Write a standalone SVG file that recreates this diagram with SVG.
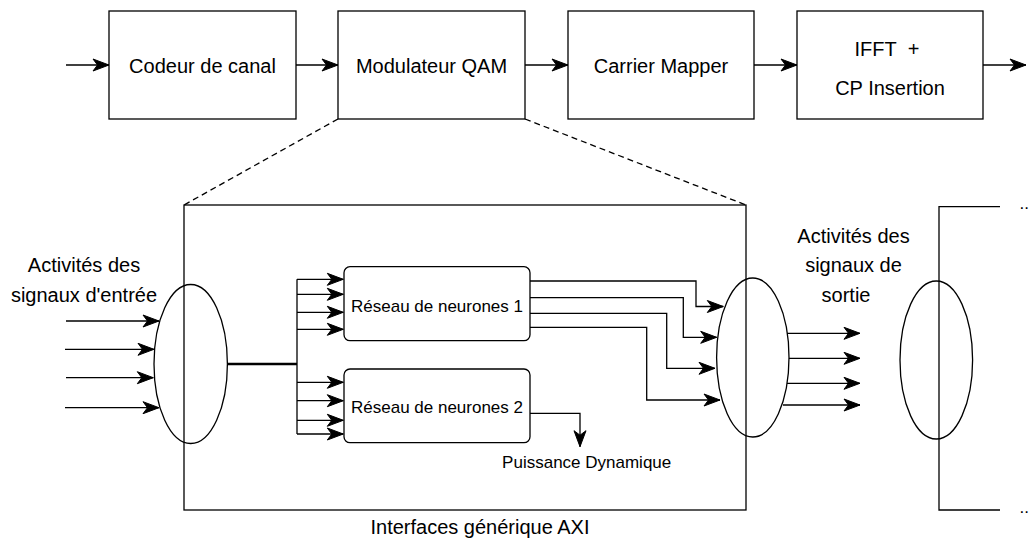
<svg xmlns="http://www.w3.org/2000/svg" width="1032" height="547" viewBox="0 0 1032 547">
<style>
.box{fill:#fff;stroke:#000;stroke-width:1.3}
.ln{fill:none;stroke:#000;stroke-width:1.3}
.thick{fill:none;stroke:#000;stroke-width:2.4}
.dash{fill:none;stroke:#000;stroke-width:1.3;stroke-dasharray:6 4}
.arr{fill:none;stroke:#000;stroke-width:1.3;marker-end:url(#ah)}
text{font-family:"Liberation Sans",Arial,sans-serif;fill:#000}
.t20{font-size:20px;text-anchor:middle}
.t17{font-size:17px;text-anchor:middle}
</style>
<defs>
<marker id="ah" markerUnits="userSpaceOnUse" markerWidth="18" markerHeight="14" refX="16" refY="6" orient="auto" overflow="visible">
<path d="M0,0 L16,6 L0,12 L4.5,6 Z" fill="#000" stroke="#000" stroke-width="1"/>
</marker>
</defs>
<rect width="1032" height="547" fill="#fff"/>

<g id="big-box">
<rect x="184" y="205" width="562" height="305" style="fill:none;stroke:#000;stroke-width:1.3"/>
<text class="t20" x="480" y="534">Interfaces générique AXI</text>
</g>

<g id="codeur">
<rect class="box" x="109" y="11" width="187" height="108"/>
<text class="t20" x="202.5" y="72.5">Codeur de canal</text>
</g>
<g id="modulateur">
<rect class="box" x="338" y="11" width="187" height="108"/>
<text class="t20" x="431.5" y="72.5">Modulateur QAM</text>
</g>
<g id="carrier">
<rect class="box" x="568" y="11" width="186" height="108"/>
<text class="t20" x="661" y="72.5">Carrier Mapper</text>
</g>
<g id="ifft">
<rect class="box" x="797" y="11" width="186" height="108"/>
<text class="t20" x="887" y="56">IFFT&#160; +</text>
<text class="t20" x="890" y="95">CP Insertion</text>
</g>

<g id="in-label">
<text class="t20" x="84" y="272">Activités des</text>
<text class="t20" x="84" y="301.7">signaux d'entrée</text>
</g>
<g id="out-label">
<text class="t20" x="853.5" y="243.3">Activités des</text>
<text class="t20" x="853.5" y="271.7">signaux de</text>
<text class="t20" x="846" y="301.7">sortie</text>
</g>

<g id="in-ellipse">
<ellipse class="ln" cx="190.7" cy="364" rx="36.7" ry="79.5"/>
</g>
<g id="out-ellipse">
<ellipse class="ln" cx="752.8" cy="357.5" rx="36.2" ry="79.5"/>
</g>
<g id="right-bracket">
<path class="ln" d="M1000,206.7 H939 V510 H1000"/>
<ellipse class="ln" cx="936.3" cy="360" rx="36.3" ry="79"/>
<text x="1019.5" y="209" style="font-size:17px">..</text>
<text x="1019.5" y="513" style="font-size:17px">..</text>
</g>

<g id="nn1">
<rect class="box" x="344" y="266.7" width="186" height="74" rx="6"/>
<text class="t17" x="437" y="311.7">Réseau de neurones 1</text>
</g>
<g id="nn2">
<rect class="box" x="344" y="369" width="186" height="73.7" rx="6"/>
<text class="t17" x="437" y="413.3">Réseau de neurones 2</text>
</g>
<g id="puissance">
<text class="t17" x="586.7" y="468.3">Puissance Dynamique</text>
</g>

<g id="connectors">
<path class="arr" d="M66,65 H109"/>
<path class="arr" d="M296,65 H338"/>
<path class="arr" d="M525,65 H568"/>
<path class="arr" d="M754,65 H797"/>
<path class="arr" d="M983,65 H1026"/>
<path class="dash" d="M338,119 L184,205"/>
<path class="dash" d="M525,119 L746,205"/>

<path class="arr" d="M66,321 H159"/>
<path class="arr" d="M65,349.3 H154"/>
<path class="arr" d="M66,377.7 H153.3"/>
<path class="arr" d="M65,407.7 H159"/>

<path class="thick" d="M227.4,364 H297"/>
<path class="ln" d="M297,279.3 V434"/>
<path class="arr" d="M297,279.3 H343.3"/>
<path class="arr" d="M297,294.3 H343.3"/>
<path class="arr" d="M297,312.3 H343.3"/>
<path class="arr" d="M297,329.3 H343.3"/>
<path class="arr" d="M297,382.3 H343.3"/>
<path class="arr" d="M297,400.7 H343.3"/>
<path class="arr" d="M297,420.3 H343.3"/>
<path class="arr" d="M297,434 H343.3"/>

<path class="arr" d="M530,281 H696 V306.5 H723.3"/>
<path class="arr" d="M530,297.7 H683.3 V337.3 H716.7"/>
<path class="arr" d="M530,313.3 H666.7 V368.3 H715"/>
<path class="arr" d="M530,327.3 H646.7 V400 H720"/>

<path class="arr" d="M530,413.3 H580 V446.7"/>

<path class="arr" d="M787,333.3 H860"/>
<path class="arr" d="M789,358.3 H860"/>
<path class="arr" d="M787,383.3 H860"/>
<path class="arr" d="M783,405 H860"/>
</g>
</svg>
